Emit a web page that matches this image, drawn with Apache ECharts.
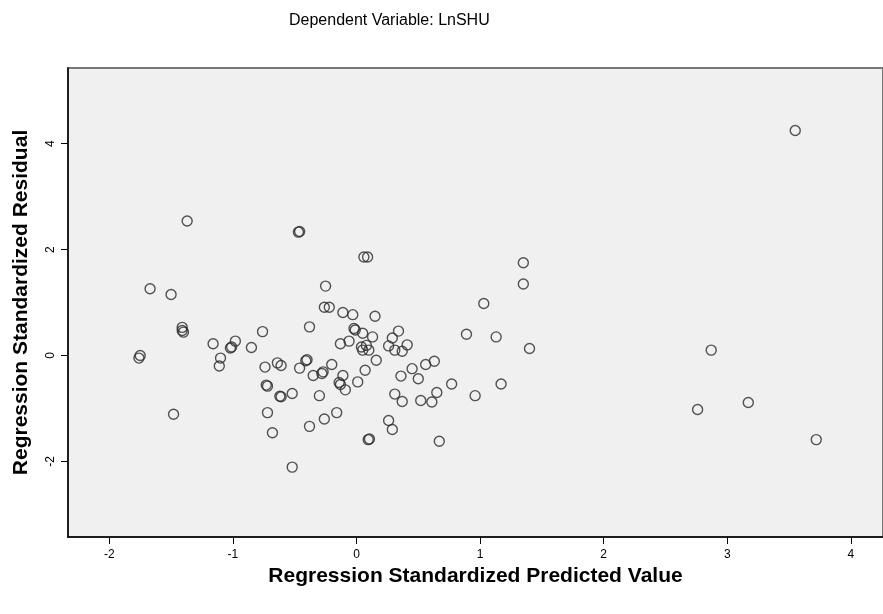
<!DOCTYPE html>
<html>
<head>
<meta charset="utf-8">
<script src="https://cdn.jsdelivr.net/npm/echarts@6/dist/echarts.min.js"></script>
<style>
html,body{margin:0;padding:0;background:#fff;}
#chart{width:883px;height:614px;}
</style>
</head>
<body>
<div id="chart"></div>
<script>
// Regression Standardized Predicted Value
const predicted = [
  -1.37, -0.47, -0.46, -1.67, -1.50, -0.25, 0.06, 0.09, -0.26, -0.22,
  -0.11, -0.03, -0.38, -0.02, -0.01, -1.41, -1.41, -1.40, -0.76, -0.13,
  -0.06, -1.16, -0.98, -1.02, -1.01, -0.85, -1.10, -1.11, -1.75, -1.76,
  -0.74, -0.64, -0.61, -0.46, -0.40, -0.41, -0.35, -0.28, -0.27, -0.20,
  -0.11, -0.14, -0.13, -0.09, 0.01, -0.73, -0.72, -0.62, -0.61, -0.52,
  -0.30, -0.72, -0.68, -0.38, -0.26, -0.16, -1.48, -0.52,
  1.35, 1.35, 1.03, 0.89, 1.13, 1.40, 0.15, 0.05, 0.13, 0.08,
  0.04, 0.10, 0.05, 0.34, 0.29, 0.26, 0.31, 0.37, 0.41, 0.16,
  0.07, 0.36, 0.45, 0.50, 0.56, 0.63, 0.77, 1.17, 0.96, 0.31,
  0.37, 0.52, 0.61, 0.65, 0.26, 0.29, 0.095, 0.105, 0.67,
  3.55, 2.87, 2.76, 3.17, 3.72
];
// Regression Standardized Residual
const residual = [
  2.54, 2.33, 2.34, 1.26, 1.15, 1.31, 1.86, 1.86, 0.91, 0.91,
  0.81, 0.77, 0.54, 0.51, 0.48, 0.53, 0.47, 0.44, 0.45, 0.22,
  0.27, 0.22, 0.27, 0.14, 0.16, 0.15, -0.05, -0.20, 0.00, -0.05,
  -0.22, -0.14, -0.19, -0.24, -0.08, -0.10, -0.38, -0.34, -0.31, -0.17,
  -0.38, -0.51, -0.55, -0.65, -0.50, -0.56, -0.58, -0.77, -0.78, -0.72,
  -0.76, -1.08, -1.46, -1.34, -1.20, -1.08, -1.11, -2.11,
  1.75, 1.35, 0.98, 0.40, 0.35, 0.13, 0.74, 0.42, 0.35, 0.19,
  0.16, 0.10, 0.10, 0.46, 0.33, 0.18, 0.10, 0.08, 0.20, -0.09,
  -0.28, -0.39, -0.25, -0.44, -0.17, -0.11, -0.54, -0.54, -0.76, -0.73,
  -0.87, -0.85, -0.88, -0.70, -1.23, -1.40, -1.59, -1.58, -1.62,
  4.25, 0.10, -1.02, -0.89, -1.59
];
const xTicks = [-2, -1, 0, 1, 2, 3, 4];
const yTicks = [-2, 0, 2, 4];

const points = predicted.map((v, i) => [v, residual[i]]);
const FONT = '"Liberation Sans", Arial, sans-serif';

const chart = echarts.init(document.getElementById('chart'), null, {renderer: 'canvas'});
chart.setOption({
  animation: false,
  backgroundColor: '#ffffff',
  title: {
    text: 'Dependent Variable: LnSHU',
    left: 284,
    top: 8,
    textStyle: {fontFamily: FONT, fontSize: 16, fontWeight: 'normal', color: '#000'}
  },
  grid: {
    left: 68, top: 68, right: -2, bottom: 77,
    show: true,
    backgroundColor: '#f0f0f0',
    borderColor: '#777',
    borderWidth: 2
  },
  xAxis: {
    type: 'value',
    min: -2.334, max: 4.26,
    name: 'Regression Standardized Predicted Value',
    nameLocation: 'middle',
    nameGap: 28,
    nameTextStyle: {fontFamily: FONT, fontSize: 21, fontWeight: 'bold', color: '#000'},
    splitLine: {show: false},
    axisLine: {show: true, onZero: false, lineStyle: {color: '#000', width: 1.5}},
    axisTick: {show: true, length: 7, customValues: xTicks, lineStyle: {color: '#000', width: 1}},
    axisLabel: {customValues: xTicks, fontFamily: FONT, fontSize: 12, color: '#000', margin: 12}
  },
  yAxis: {
    type: 'value',
    min: -3.43, max: 5.43,
    name: 'Regression Standardized Residual',
    nameLocation: 'middle',
    nameGap: 36,
    nameRotate: 90,
    nameTextStyle: {fontFamily: FONT, fontSize: 21, fontWeight: 'bold', color: '#000'},
    splitLine: {show: false},
    axisLine: {show: true, onZero: false, lineStyle: {color: '#000', width: 1.5}},
    axisTick: {show: true, length: 7, customValues: yTicks, lineStyle: {color: '#000', width: 1}},
    axisLabel: {customValues: yTicks, rotate: 90, fontFamily: FONT, fontSize: 12, color: '#000', margin: 11}
  },
  series: [{
    type: 'scatter',
    data: points,
    symbol: 'circle',
    symbolSize: 10,
    itemStyle: {color: 'rgba(0,0,0,0)', borderColor: '#2a2a2a', borderWidth: 1.4},
    emphasis: {disabled: true}
  }]
});
</script>
</body>
</html>
